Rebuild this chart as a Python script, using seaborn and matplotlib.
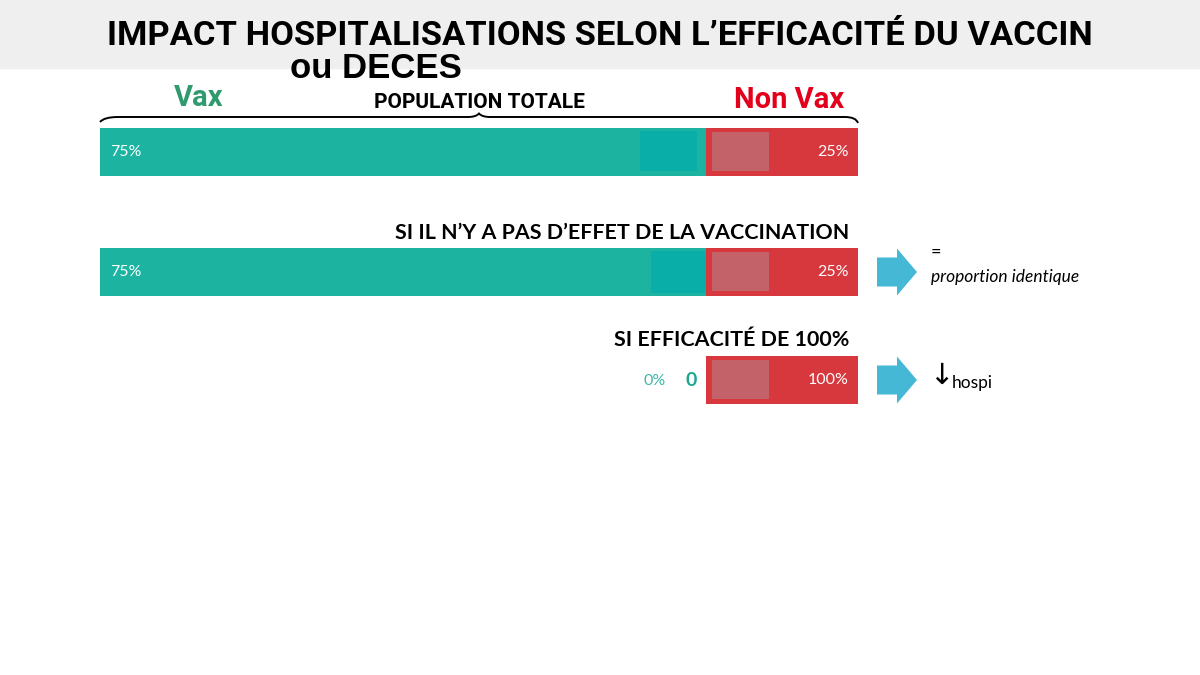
import matplotlib
matplotlib.use("Agg")
import matplotlib.pyplot as plt
import seaborn as sns
from matplotlib.patches import Rectangle, FancyArrow, PathPatch
from matplotlib.path import Path

# données
rows = ["POPULATION TOTALE", "SI IL N\u2019Y A PAS D\u2019EFFET DE LA VACCINATION", "SI EFFICACITÉ DE 100%"]
vax_pct = ["75%", "75%", "0%"]
nonvax_pct = ["25%", "25%", "100%"]
vax_width = [80, 80, 0]        # largeur dessinée du segment Vax (sur 100)
nonvax_width = [20, 20, 20]    # largeur dessinée du segment Non Vax
split = 80                     # début du segment Non Vax
row_y = [152, 272, 380]        # centre des barres (pixels)

TEAL = "#1cb4a1"
RED = "#d6383e"
COND = ["Liberation Sans Narrow", "Roboto", "DejaVu Sans"]
CAL = ["Lato", "Open Sans", "DejaVu Sans"]

sns.set_theme(style="white")
plt.rcParams['font.family'] = CAL
plt.rcParams['text.color'] = "black"

fig = plt.figure(figsize=(12, 6.75), dpi=100)
fig.patch.set_facecolor("white")

# axe des barres : x en % de la largeur, y en pixels
ax = fig.add_axes([100 / 1200, 0, 758 / 1200, 1])
ax.patch.set_alpha(0)
sns.barplot(x=vax_width, y=row_y, orient="h", native_scale=True,
            width=48 / 108, color=TEAL, saturation=1, errorbar=None,
            linewidth=0, ax=ax)
ax.barh(row_y, nonvax_width, left=split, height=48, color=RED, linewidth=0)
ax.set_xlim(0, 100)
ax.set_ylim(675, 0)
ax.axis("off")

# calque d'annotations en pixels
ov = fig.add_axes([0, 0, 1, 1], zorder=5)
ov.patch.set_alpha(0)
ov.set_xlim(0, 1200)
ov.set_ylim(675, 0)
ov.axis("off")

ov.add_patch(Rectangle((0, 0), 1200, 68, color="#efefef", zorder=0))
ov.text(600, 36, "IMPACT HOSPITALISATIONS SELON L\u2019EFFICACITÉ DU VACCIN",
        ha="center", va="center", fontsize=24.8, fontweight="bold", family=COND)
ov.text(290, 68, "ou DECES", ha="left", va="center", fontsize=25,
        fontweight="bold", family=["Liberation Sans", "DejaVu Sans"])

ov.text(199, 98, "Vax", ha="center", va="center", fontsize=21, fontweight="bold",
        color="#2e9a6e", family=COND)
ov.text(789, 100, "Non Vax", ha="center", va="center", fontsize=21, fontweight="bold",
        color="#e3001b", family=COND)
ov.text(479, 102, rows[0], ha="center", va="center", fontsize=15, fontweight="bold",
        family=COND)

# accolade
verts = [(100, 122), (104, 117), (118, 117),
         (468, 117), (476, 117), (479, 113.5),
         (482, 117), (490, 117), (845, 117), (856, 117), (858, 123)]
codes = [Path.MOVETO, Path.CURVE3, Path.CURVE3,
         Path.LINETO, Path.CURVE3, Path.CURVE3,
         Path.CURVE3, Path.CURVE3, Path.LINETO, Path.CURVE3, Path.CURVE3]
ov.add_patch(PathPatch(Path(verts, codes), fill=False, lw=1.4, color="black"))

# carrés décoratifs dans les barres
ov.add_patch(Rectangle((640, 131), 57, 40, color="#0aaea8", lw=0))
ov.add_patch(Rectangle((651, 251), 55, 42, color="#0aaea8", lw=0))
for y in row_y:
    ov.add_patch(Rectangle((712, y - 20), 57, 39, color="#c4626a", lw=0))

for i, y in enumerate(row_y):
    if vax_width[i] > 0:
        ov.text(110, y, vax_pct[i], ha="left", va="center", fontsize=11.5, color="white")
    ov.text(849, y, nonvax_pct[i], ha="right", va="center", fontsize=11.5, color="white")

ov.text(849, 233, rows[1], ha="right", va="center", fontsize=15.4, fontweight="bold")
ov.text(849, 340, rows[2], ha="right", va="center", fontsize=15.4, fontweight="bold")

ov.text(666, 381, vax_pct[2], ha="right", va="center", fontsize=11.5, color="#3cb8a8")
ov.text(691, 380, "0", ha="center", va="center", fontsize=14, fontweight="bold",
        color="#1ba88f")

# flèches
for y in row_y[1:]:
    ov.add_patch(FancyArrow(877, y, 40, 0, width=29, head_width=47, head_length=20,
                            length_includes_head=True, color="#45b8d6", lw=0))

ov.text(931, 252, "=", ha="left", va="center", fontsize=13)
ov.text(931, 277, "proportion identique", ha="left", va="center", fontsize=12.5,
        style="italic")
ov.text(929, 376, "\u2193", ha="left", va="center", fontsize=21,
        family=["DejaVu Sans"])
ov.text(952, 383, "hospi", ha="left", va="center", fontsize=12.5)

fig.savefig("out.png", dpi=100)
